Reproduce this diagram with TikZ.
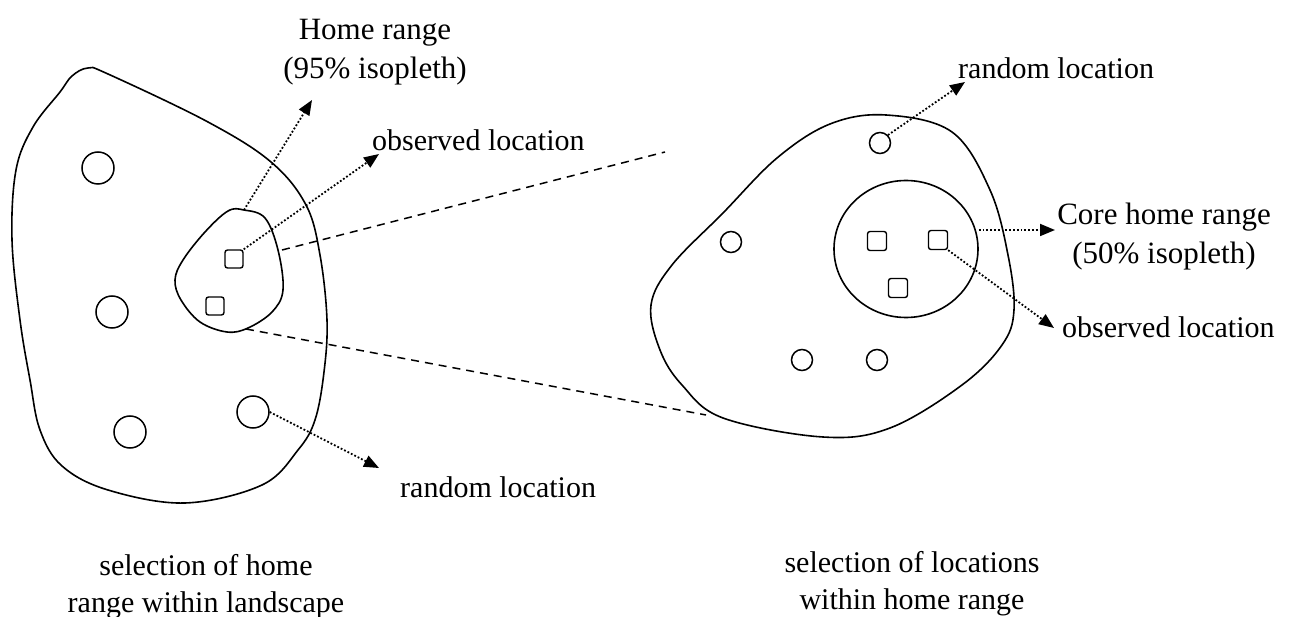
\documentclass[tikz,border=0pt]{standalone}
\usepackage{fontspec}
\setmainfont{Liberation Serif}
\usetikzlibrary{arrows.meta,shapes.geometric}
\begin{document}
\begin{tikzpicture}[x=1pt,y=-1pt,
  outline/.style={line width=1.6pt},
  loc/.style={draw,line width=1.5pt,circle,minimum size=#1,inner sep=0pt},
  obs/.style={draw,line width=1.4pt,rectangle,rounded corners=2.5pt,minimum size=#1,inner sep=0pt},
  dotarrow/.style={line width=1.8pt,dotted,-{Triangle[length=15pt,width=12pt]}},
  dashline/.style={line width=1.5pt,dash pattern=on 8pt off 6pt},
  lab/.style={font=\fontsize{30}{37}\selectfont,inner sep=0pt},
  lab2/.style={font=\fontsize{31}{39}\selectfont,inner sep=0pt,align=center}]
\useasboundingbox (0,0) rectangle (1294,617);
% left landscape blob
\draw[outline] plot[smooth cycle,tension=0.6] coordinates {
 (88,68) (108,74) (208,122) (271,162) (306,205) (320,255) (327,320) (324,372)
 (315,420) (298,450) (262,485) (185,503) (108,490) (62,466) (40,430) (30,380)
 (20,320) (12,240) (16,170) (33,127) (60,92) (72,76)};
% home range blob (left)
\draw[outline] plot[smooth cycle,tension=0.6] coordinates {
 (244,210) (265,218) (278,250) (283,290) (272,312) (248,328) (227,332)
 (200,322) (181,300) (175,280) (183,260) (205,232) (228,211)};
\coordinate (hrtop) at (244,210);
\coordinate (hrright) at (282,250);
\coordinate (hrbottom) at (246,329);
% left random locations
\node[loc=32pt] (rl1) at (98,168) {};
\node[loc=32pt] (rl2) at (112,312) {};
\node[loc=32pt] (rl3) at (130,432) {};
\node[loc=32pt] (rl4) at (253,412) {};
% left observed locations
\node[obs=18pt] (ol1) at (234,259) {};
\node[obs=18pt] (ol2) at (215,306) {};
% right home range blob
\draw[outline] plot[smooth cycle,tension=0.6] coordinates {
 (886,115) (952,132) (990,190) (1008,255) (1014,310) (1002,345) (962,385)
 (890,428) (823,437) (723,418) (682,385) (660,350) (651,305) (672,265)
 (723,213) (777,158) (830,124)};
\coordinate (bigleftA) at (665,152);
\coordinate (bigleftB) at (706,415);
% core home range
\node[draw,line width=1.6pt,ellipse,minimum width=144pt,minimum height=137pt,inner sep=0pt] (core) at (906,249) {};
% right random locations
\node[loc=21pt] (rr1) at (880,143) {};
\node[loc=21pt] (rr2) at (731,242) {};
\node[loc=21pt] (rr3) at (802,360) {};
\node[loc=21pt] (rr4) at (877,360) {};
% right observed locations
\node[obs=19pt] (or1) at (877,241) {};
\node[obs=19pt] (or2) at (938,240) {};
\node[obs=19pt] (or3) at (898,288) {};
% dashed zoom lines
\draw[dashline] (hrright) -- (bigleftA);
\draw[dashline] (hrbottom) -- (bigleftB);
% arrow tips
\coordinate (t1) at (312,100);
\coordinate (t2) at (379,154);
\coordinate (t3) at (379,468);
\coordinate (t4) at (965,82);
\coordinate (t5) at (1055,230);
\coordinate (t6) at (1054,328);
\draw[dotarrow] (hrtop) -- (t1);
\draw[dotarrow] (ol1.north east) -- (t2);
\draw[dotarrow] (rl4.east) -- (t3);
\draw[dotarrow] (rr1.north east) -- (t4);
\draw[dotarrow] (core.east |- t5) -- (t5);
\draw[dotarrow] (or2.south east) -- (t6);
% labels
\node[lab2] (hr) at (375,52) {Home range\\(95\% isopleth)};
\node[lab,anchor=base west] (obsL) at (372,151) {observed location};
\node[lab,anchor=base west] (randL) at (400,497) {random location};
\node[lab,anchor=base west] (randR) at (958,79) {random location};
\node[lab2] (coreL) at (1164,237) {Core home range\\(50\% isopleth)};
\node[lab,anchor=base west] (obsR) at (1062,338) {observed location};
\node[lab,align=center,font=\fontsize{30}{37}\selectfont] (capL) at (206,587) {selection of home\\range within landscape};
\node[lab,align=center,font=\fontsize{30}{37}\selectfont] (capR) at (912,584) {selection of locations\\within home range};
\end{tikzpicture}
\end{document}
